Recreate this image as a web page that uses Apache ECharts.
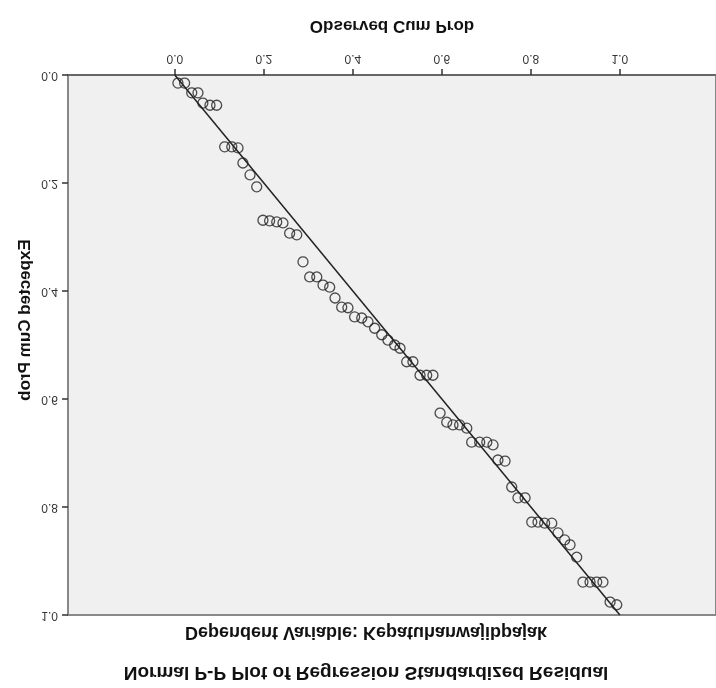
<!DOCTYPE html>
<html>
<head>
<meta charset="utf-8">
<script src="https://cdn.jsdelivr.net/npm/echarts@6/dist/echarts.min.js"></script>
<style>
  html, body { margin: 0; padding: 0; background: #fff; }
  /* the reference picture is mirrored top-to-bottom */
  #main { width: 716px; height: 688px; transform: scaleY(-1); }
</style>
</head>
<body>
<div id="main"></div>
<script>
// observed cumulative probability (x) for each case
var observed = [0.007, 0.022, 0.038, 0.052, 0.063, 0.079, 0.094, 0.112, 0.128, 0.142,
  0.153, 0.169, 0.184, 0.198, 0.213, 0.229, 0.243, 0.258, 0.274, 0.288,
  0.303, 0.319, 0.333, 0.348, 0.360, 0.375, 0.389, 0.404, 0.420, 0.434,
  0.449, 0.465, 0.479, 0.494, 0.506, 0.521, 0.535, 0.551, 0.566, 0.580,
  0.596, 0.611, 0.625, 0.640, 0.656, 0.667, 0.685, 0.701, 0.715, 0.726,
  0.742, 0.757, 0.771, 0.787, 0.802, 0.816, 0.831, 0.847, 0.861, 0.876,
  0.888, 0.903, 0.917, 0.933, 0.948, 0.962, 0.978, 0.993];
// expected cumulative probability (y) for each case
var expected = [0.015, 0.015, 0.033, 0.033, 0.052, 0.056, 0.056, 0.133, 0.133, 0.135,
  0.163, 0.185, 0.207, 0.269, 0.270, 0.272, 0.274, 0.293, 0.296, 0.346,
  0.374, 0.374, 0.389, 0.393, 0.413, 0.430, 0.431, 0.448, 0.450, 0.457,
  0.469, 0.481, 0.491, 0.500, 0.506, 0.531, 0.531, 0.556, 0.556, 0.556,
  0.626, 0.643, 0.648, 0.648, 0.654, 0.680, 0.680, 0.680, 0.685, 0.713,
  0.715, 0.763, 0.783, 0.783, 0.828, 0.828, 0.830, 0.830, 0.848, 0.861,
  0.870, 0.893, 0.939, 0.939, 0.939, 0.939, 0.976, 0.981];
var xTicks = [0.0, 0.2, 0.4, 0.6, 0.8, 1.0];
var refLine = [[0, 0], [1, 1]];

var titleText = "Normal P-P Plot of Regression Standardized Residual";
var subText = "Dependent Variable: Kepatuhanwajibpajak";

var points = observed.map(function (v, i) { return [v, expected[i]]; });

var chart = echarts.init(document.getElementById("main"));
chart.setOption({
  animation: false,
  textStyle: { fontFamily: "Liberation Sans, Arial, sans-serif" },
  graphic: [
    {
      type: "text", x: 366, y: 16,
      style: { text: titleText, font: "bold 19px Liberation Sans", fill: "#111",
        align: "center", verticalAlign: "middle" }
    },
    {
      type: "text", x: 366, y: 56,
      style: { text: subText, font: "bold 18px Liberation Sans", fill: "#111",
        align: "center", verticalAlign: "middle" }
    },
    {
      type: "text", x: 25, y: 368, rotation: Math.PI / 2,
      style: { text: "Expected Cum Prob", font: "bold 17px Liberation Sans", fill: "#111",
        align: "center", verticalAlign: "middle" }
    }
  ],
  grid: {
    left: 68, right: 0, top: 73, bottom: 75,
    show: true, backgroundColor: "#f0f0f0", borderColor: "#888", borderWidth: 2
  },
  xAxis: {
    type: "value", min: -0.24, max: 1.216,
    name: "Observed Cum Prob", nameLocation: "middle", nameGap: 41,
    nameTextStyle: { fontWeight: "bold", fontSize: 17, color: "#111" },
    axisLine: { show: true, onZero: false, lineStyle: { color: "#666", width: 2 } },
    axisTick: { show: true, length: 6, customValues: xTicks, lineStyle: { color: "#333", width: 1.5 } },
    axisLabel: { customValues: xTicks, margin: 11, fontSize: 12, color: "#333",
      formatter: function (v) { return v.toFixed(1); } },
    splitLine: { show: false }
  },
  yAxis: {
    type: "value", min: 0, max: 1, interval: 0.2,
    axisLine: { show: true, onZero: false, lineStyle: { color: "#888", width: 2 } },
    axisTick: { show: true, length: 6, lineStyle: { color: "#333", width: 1.5 } },
    axisLabel: { margin: 10, fontSize: 12, color: "#333",
      formatter: function (v) { return v.toFixed(1); } },
    splitLine: { show: false }
  },
  series: [
    {
      type: "line", data: refLine, showSymbol: false, silent: true,
      lineStyle: { color: "#222", width: 1.5 }, z: 2
    },
    {
      type: "scatter", data: points, symbol: "circle", symbolSize: 10,
      itemStyle: { color: "rgba(0,0,0,0)", borderColor: "#222", borderWidth: 1.3 }, z: 3
    }
  ]
});
</script>
</body>
</html>
